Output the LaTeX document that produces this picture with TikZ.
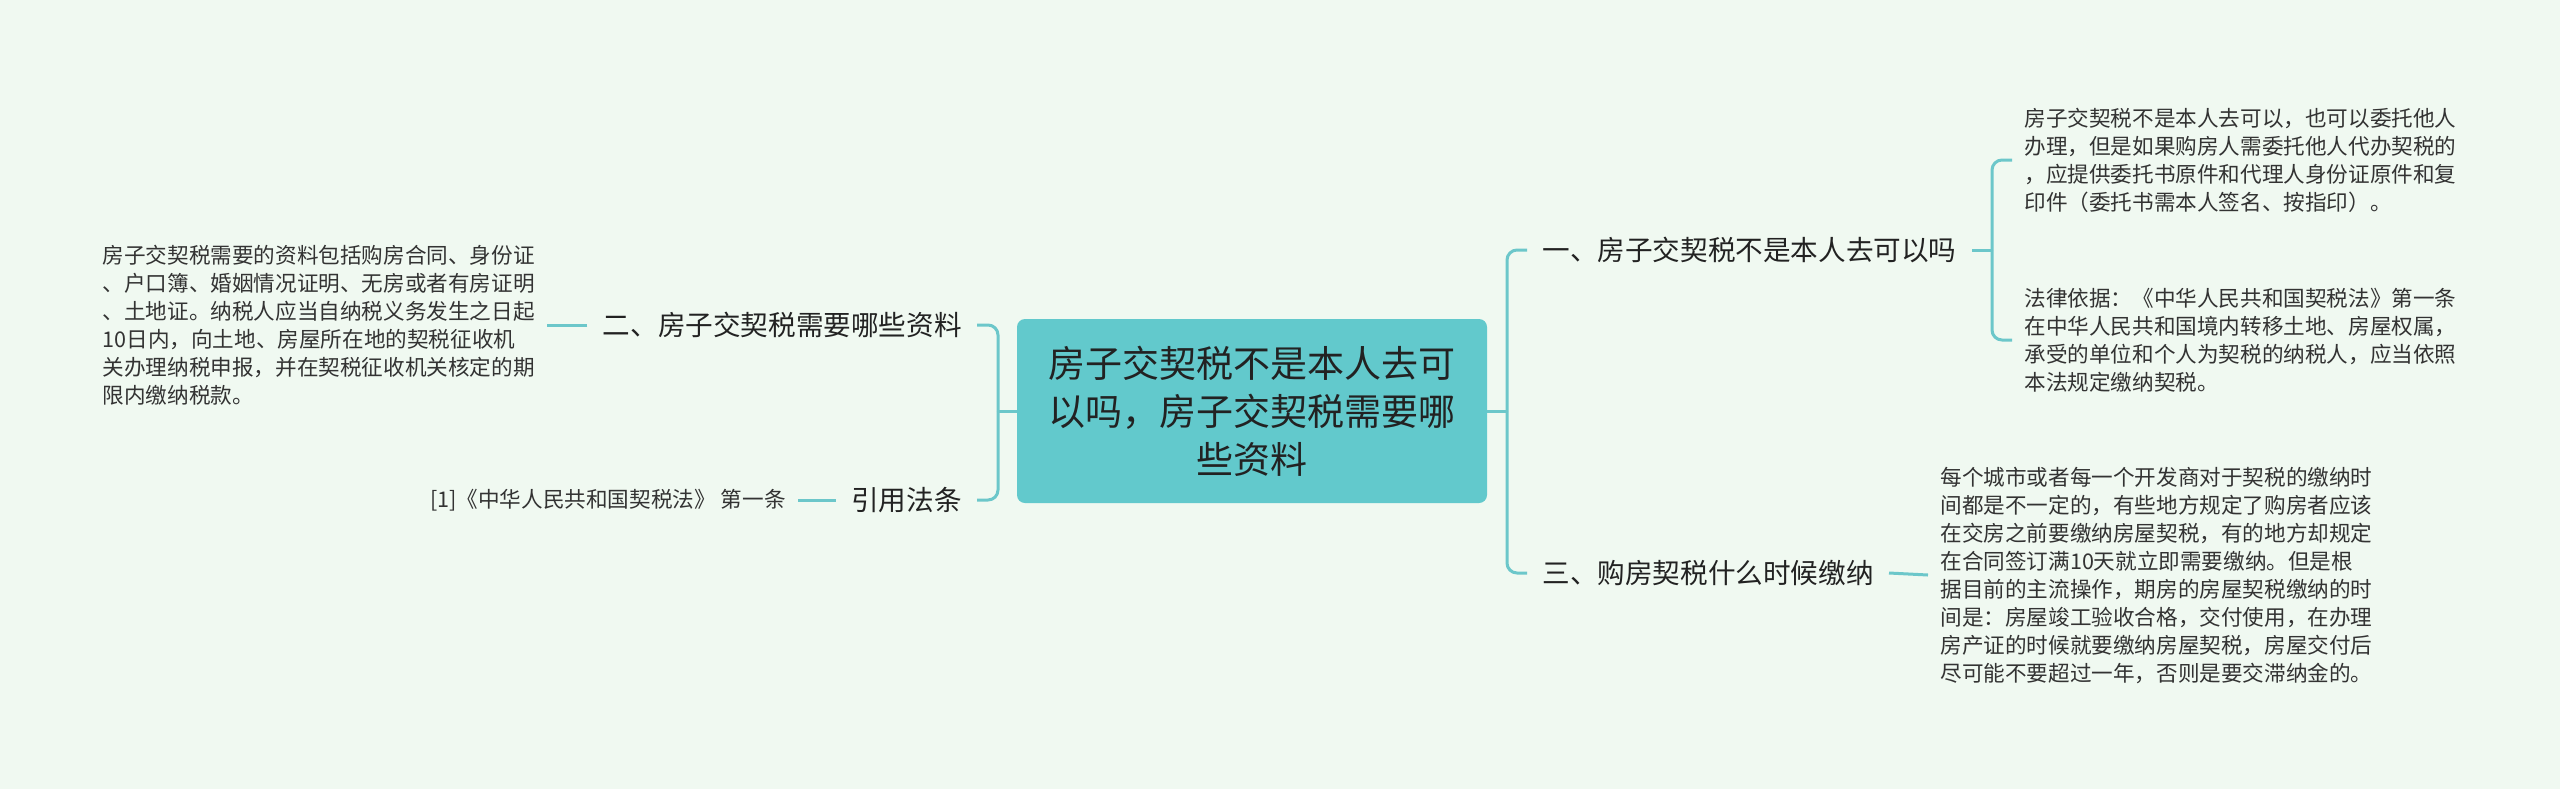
\documentclass[tikz,border=0pt]{standalone}
\usepackage{fontspec}
\setmainfont{Noto Sans CJK SC}
\usetikzlibrary{calc}
\definecolor{bgcol}{HTML}{F0F9F1}
\definecolor{rootfill}{HTML}{62C9CC}
\definecolor{conncol}{HTML}{6CC7CA}
\definecolor{txtcol}{HTML}{333333}
\definecolor{topiccol}{HTML}{222222}
\begin{document}
\begin{tikzpicture}[x=0.5pt,y=-0.5pt,
  conn/.style={draw=conncol, line width=1.5pt, rounded corners=5pt},
  leaf/.style={font=\fontsize{10.8pt}{14pt}\selectfont, text=txtcol, align=left, inner xsep=6pt, inner ysep=2pt},
  topic/.style={font=\fontsize{13.8pt}{17pt}\selectfont, text=topiccol, inner xsep=7.5pt, inner ysep=3pt},
  rootbox/.style={fill=rootfill, rounded corners=4pt, minimum width=235pt, minimum height=92pt, align=center, text=topiccol, font=\fontsize{18.5pt}{24pt}\selectfont, inner sep=0pt}]
\useasboundingbox (0,0) rectangle (2560,789);
\fill[bgcol] (0,0) rectangle (2560,789);

\node[rootbox] (root) at (1252,411) {房子交契税不是本人去可\\以吗，房子交契税需要哪\\些资料};

\node[topic, anchor=east] (n2) at (977,325) {二、房子交契税需要哪些资料};
\node[topic, anchor=east] (n4) at (977,500) {引用法条};
\node[topic, anchor=west] (n1) at (1527,250) {一、房子交契税不是本人去可以吗};
\node[topic, anchor=west] (n3) at (1527,573) {三、购房契税什么时候缴纳};

\node[leaf, anchor=east] (l2) at (547,325) {房子交契税需要的资料包括购房合同、身份证\\、户口簿、婚姻情况证明、无房或者有房证明\\、土地证。纳税人应当自纳税义务发生之日起\\10日内，向土地、房屋所在地的契税征收机\\关办理纳税申报，并在契税征收机关核定的期\\限内缴纳税款。};
\node[leaf, anchor=east] (l4) at (798,500) {[1]《中华人民共和国契税法》 第一条};
\node[leaf, anchor=west] (l1a) at (2012,160) {房子交契税不是本人去可以，也可以委托他人\\办理，但是如果购房人需委托他人代办契税的\\，应提供委托书原件和代理人身份证原件和复\\印件（委托书需本人签名、按指印）。};
\node[leaf, anchor=west] (l1b) at (2012,340) {法律依据：《中华人民共和国契税法》第一条\\在中华人民共和国境内转移土地、房屋权属，\\承受的单位和个人为契税的纳税人，应当依照\\本法规定缴纳契税。};
\node[leaf, anchor=west] (l3) at (1928,575) {每个城市或者每一个开发商对于契税的缴纳时\\间都是不一定的，有些地方规定了购房者应该\\在交房之前要缴纳房屋契税，有的地方却规定\\在合同签订满10天就立即需要缴纳。但是根\\据目前的主流操作，期房的房屋契税缴纳的时\\间是：房屋竣工验收合格，交付使用，在办理\\房产证的时候就要缴纳房屋契税，房屋交付后\\尽可能不要超过一年，否则是要交滞纳金的。};

\coordinate (bl) at (998,0);
\coordinate (br) at (1507,0);
\coordinate (bt) at (1992,0);

\draw[conn] (n2.east) -| (bl |- root.west);
\draw[conn] (n4.east) -| (bl |- root.west);
\draw[conn] (bl |- root.west) -- (root.west);
\draw[conn] (n1.west) -| (br |- root.east);
\draw[conn] (n3.west) -| (br |- root.east);
\draw[conn] (br |- root.east) -- (root.east);
\draw[conn] (l1a.west) -| (bt |- n1.east);
\draw[conn] (l1b.west) -| (bt |- n1.east);
\draw[conn] (bt |- n1.east) -- (n1.east);
\draw[conn] (n2.west) -- (l2.east);
\draw[conn] (n4.west) -- (l4.east);
\draw[conn] (n3.east) -- (l3.west);
\end{tikzpicture}
\end{document}
